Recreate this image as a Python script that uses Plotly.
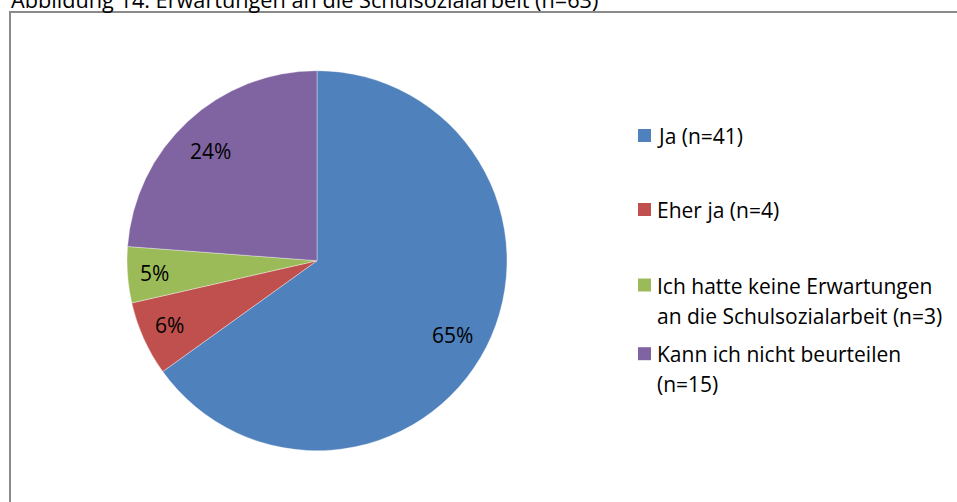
import plotly.graph_objects as go

W, H = 957, 502

title_text = "Abbildung 14: Erwartungen an die Schulsozialarbeit (n=63)"
categories = ["Ja", "Eher ja", "Ich hatte keine Erwartungen an die Schulsozialarbeit", "Kann ich nicht beurteilen"]
counts = [41, 4, 3, 15]
legend_labels = ["Ja (n=41)", "Eher ja (n=4)",
                 "Ich hatte keine Erwartungen<br>an die Schulsozialarbeit (n=3)",
                 "Kann ich nicht beurteilen<br>(n=15)"]
colors = ["#4F81BD", "#C0504D", "#9BBB59", "#8064A2"]

FONT = "Open Sans"
FS = 21

def px(x):
    return x / W

def py(y):
    return 1 - y / H

# pie geometry (pixels)
cx, cy, r = 317, 260.7, 190

fig = go.Figure()
fig.add_trace(go.Pie(
    labels=categories, values=counts, sort=False, direction="clockwise", rotation=0,
    marker=dict(colors=colors, line=dict(color="rgba(255,255,255,0.6)", width=0.6)),
    textinfo="none", hoverinfo="none", showlegend=False,
    domain=dict(x=[px(cx - r), px(cx + r)], y=[py(cy + r), py(cy - r)]),
))

annotations = []
shapes = []

# percentage labels inside slices
total = sum(counts)
pct_pos = [(452.5, 334.5), (169, 325), (154, 273), (210, 151)]
for v, (x, y) in zip(counts, pct_pos):
    annotations.append(dict(
        text=f"{round(100 * v / total)}%", x=px(x), y=py(y), xref="paper", yref="paper",
        xanchor="center", yanchor="middle", showarrow=False,
        font=dict(family=FONT, size=FS, color="#000000")))

# legend
leg_sq_y = [135.5, 209.5, 285, 353.7]
line_gap = 30
for lab, col, y in zip(legend_labels, colors, leg_sq_y):
    shapes.append(dict(type="rect", xref="paper", yref="paper",
                       x0=px(638), x1=px(651), y0=py(y - 6.5), y1=py(y + 6.5),
                       fillcolor=col, line=dict(width=0)))
    for i, line in enumerate(lab.split("<br>")):
        annotations.append(dict(
            text=line, x=px(655), y=py(y + 0.5 + i * line_gap), xref="paper", yref="paper",
            xanchor="left", yanchor="middle", showarrow=False,
            font=dict(family=FONT, size=FS, color="#000000")))

# title (partly cut at the top)
annotations.append(dict(
    text=title_text, x=px(9), y=py(-0.4), xref="paper", yref="paper",
    xanchor="left", yanchor="middle", showarrow=False,
    font=dict(family=FONT, size=21.7, color="#000000")))

# chart border
shapes.append(dict(type="rect", xref="paper", yref="paper",
                   x0=px(10), x1=px(W + 20), y0=py(H + 20), y1=py(12),
                   line=dict(color="#8A8A8A", width=2), fillcolor="rgba(0,0,0,0)"))

fig.update_layout(
    width=W, height=H, margin=dict(l=0, r=0, t=0, b=0),
    paper_bgcolor="white", plot_bgcolor="white",
    annotations=annotations, shapes=shapes,
)

fig.write_html("out.html", config={"displayModeBar": False},
               post_script="document.body.style.margin='0';")
